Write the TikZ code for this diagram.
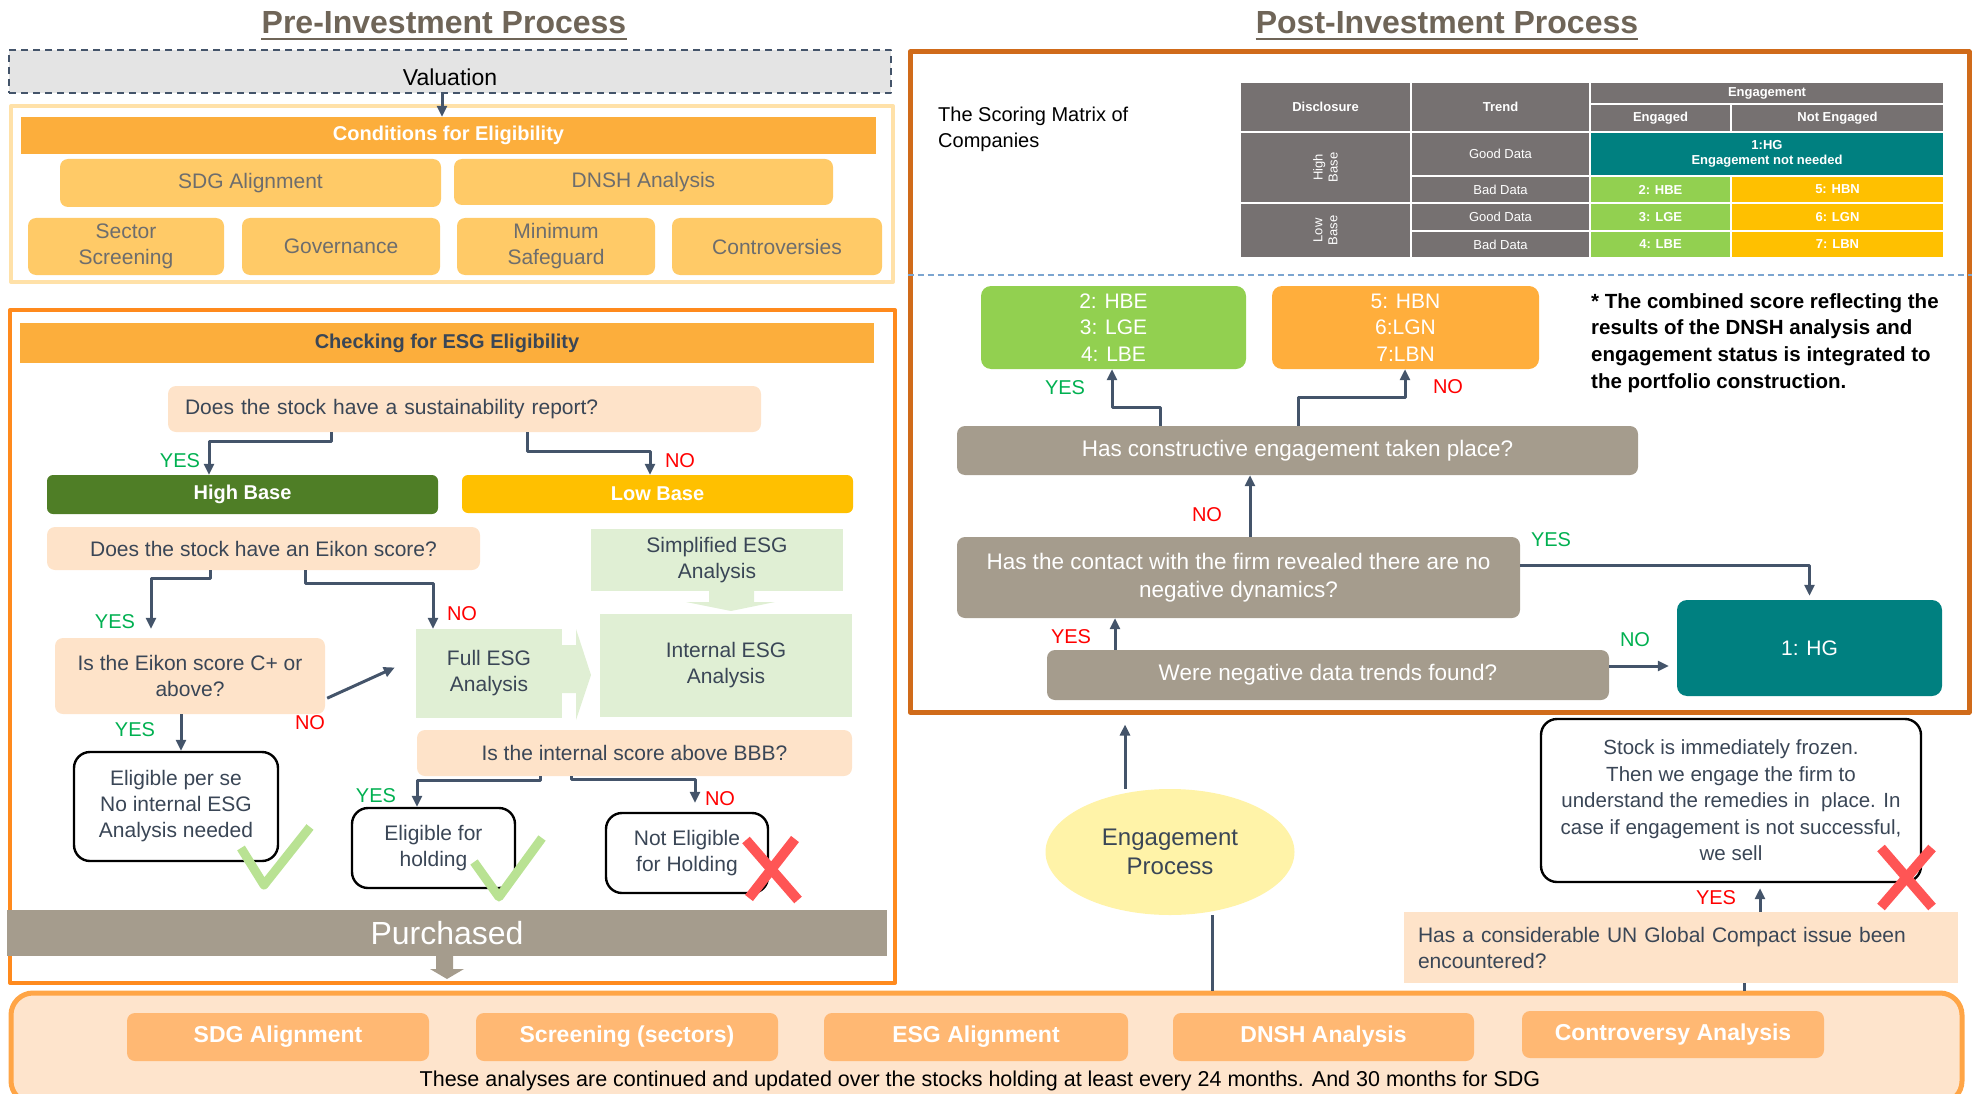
\documentclass[tikz,border=0pt]{standalone}
\usepackage{fontspec}
\setmainfont{Liberation Sans}
\usepackage{tikz}
\usetikzlibrary{positioning, arrows, arrows.meta, calc, shapes.geometric}

\definecolor{arrowc}{HTML}{44546A}
\definecolor{peach}{HTML}{FEE3C9}
\definecolor{ltgreen}{HTML}{E0EFD4}
\definecolor{condbar}{HTML}{FCAE3C}
\definecolor{condfill}{HTML}{FFCA67}
\definecolor{condedge}{HTML}{FFE1A8}
\definecolor{chkedge}{HTML}{FF8A1D}
\definecolor{postedge}{HTML}{D06B1A}
\definecolor{botfill}{HTML}{FEE4CC}
\definecolor{botedge}{HTML}{FFA546}
\definecolor{botitem}{HTML}{FFB873}
\definecolor{brgray}{HTML}{A59C8D}
\definecolor{tealc}{HTML}{008080}
\definecolor{tgreen}{HTML}{92D050}
\definecolor{tyellow}{HTML}{FFC000}
\definecolor{torange}{HTML}{FFAE3C}
\definecolor{tgray}{HTML}{767171}
\definecolor{hbgreen}{HTML}{4F7E26}
\definecolor{titlec}{HTML}{6F6558}
\definecolor{txtdark}{HTML}{3A4656}
\definecolor{condtxt}{HTML}{6D6D6D}
\definecolor{yesg}{HTML}{00B050}
\definecolor{nor}{HTML}{FF0000}
\definecolor{tickg}{HTML}{B9E293}
\definecolor{crossr}{HTML}{FF5555}
\definecolor{engfill}{HTML}{FFF3A8}
\definecolor{valfill}{HTML}{E4E4E4}
\definecolor{dashblue}{HTML}{7CA5D0}

\begin{document}
\begin{tikzpicture}[x=1pt, y=-1pt, line join=round,
    wh/.style 2 args={minimum width=#1pt, minimum height=#2pt},
    nbase/.style={align=center, inner sep=2pt, text=txtdark, font=\fontsize{21}{26}\selectfont},
    ttl/.style={inner sep=0pt, text=titlec, font=\bfseries\fontsize{32}{36}\selectfont},
    hbar/.style={nbase, fill=condbar, font=\bfseries\fontsize{20}{24}\selectfont},
    cond/.style={nbase, fill=condfill, rounded corners=8pt, text=condtxt},
    quest/.style={nbase, fill=peach, rounded corners=8pt},
    esgbox/.style={nbase, fill=ltgreen},
    endbox/.style={nbase, fill=white, draw=black, line width=2.4pt, rounded corners=16pt},
    basebar/.style={nbase, rounded corners=6pt, text=white, font=\bfseries\fontsize{20}{24}\selectfont},
    postq/.style={nbase, fill=brgray, rounded corners=8pt, text=white, font=\fontsize{22.5}{28}\selectfont},
    score/.style={nbase, rounded corners=10pt, text=white, font=\fontsize{21}{26.5}\selectfont},
    botbox/.style={nbase, fill=botitem, rounded corners=8pt, text=white, font=\bfseries\fontsize{23}{28}\selectfont},
    tcell/.style={align=center, inner sep=0pt, text=white, font=\fontsize{13}{15}\selectfont},
    yeslbl/.style={inner sep=0pt, text=yesg, font=\fontsize{20}{22}\selectfont},
    nolbl/.style={inner sep=0pt, text=nor, font=\fontsize{20}{22}\selectfont},
    arr/.style={draw=arrowc, line width=3pt, -{Triangle[length=11pt, width=10pt]}},
    link/.style={draw=arrowc, line width=3pt},
    tickmark/.style={draw=tickg, line width=9pt},
    crossmark/.style={draw=crossr, line width=10pt}]
	\useasboundingbox (0,0) rectangle (1975,1094);
	
	% Titles
	\node[ttl] (pretitle) at (444,23) {Pre-Investment Process};
	\node[ttl] (posttitle) at (1447,23) {Post-Investment Process};
	\draw[titlec, line width=2.5pt] ($(pretitle.base west)+(0,5)$) -- ($(pretitle.base east)+(0,5)$);
	\draw[titlec, line width=2.5pt] ($(posttitle.base west)+(0,5)$) -- ($(posttitle.base east)+(0,5)$);
	
	% Frames
	\node[draw=condedge, line width=4pt, wh={882}{176}] (condframe) at (452,194) {};
	\node[draw=chkedge, line width=4pt, wh={885}{673}] (chkframe) at (452.5,646.5) {};
	\node[draw=postedge, line width=5pt, wh={1059}{660}] (postframe) at (1439.5,382) {};
	\node[draw=botedge, fill=botfill, line width=5pt, rounded corners=22pt, wh={1951}{110}] (botframe) at (986.5,1048) {};
	
	% Pre-investment: valuation and conditions
	\node[nbase, draw=arrowc, dash pattern=on 7pt off 5pt, line width=1.8pt, fill=valfill, wh={882}{43}, text=black, font=\fontsize{23}{28}\selectfont] (valuation) at (450,71.5) {\raisebox{-14pt}[0pt][0pt]{Valuation}};
	\node[hbar, wh={855}{37}, text=white] (condbar) at (448.5,135.5) {Conditions for Eligibility};
	\node[cond, wh={381}{48}] (sdg) at (250.5,183) {SDG Alignment};
	\node[cond, wh={379}{46}] (dnsh) at (643.5,182) {DNSH Analysis};
	\node[cond, wh={196}{57}] (sector) at (126,246.5) {Sector\\Screening};
	\node[cond, wh={198}{57}] (gov) at (341,246.5) {Governance};
	\node[cond, wh={198}{57}] (minsafe) at (556,246.5) {Minimum\\Safeguard};
	\node[cond, wh={210}{57}] (contro) at (777,246.5) {Controversies};
	
	% Pre-investment: ESG eligibility check
	\node[hbar, wh={854}{40}, text=txtdark] (chkbar) at (447,343) {Checking for ESG Eligibility};
	\node[quest, align=left, inner xsep=17pt, text width=559pt, wh={593}{46}] (q1) at (464.5,409) {Does the stock have a sustainability report?};
	\node[basebar, fill=hbgreen, wh={391}{39}] (highbase) at (242.5,494.5) {High Base};
	\node[basebar, fill=tyellow, wh={391}{38}] (lowbase) at (657.5,494) {Low Base};
	\node[quest, wh={433}{43}] (q2) at (263.5,548.5) {Does the stock have an Eikon score?};
	\node[esgbox, wh={252}{62}] (simpl) at (717,560) {Simplified ESG\\Analysis};
	\node[esgbox, wh={252}{103}] (internal) at (726,665.5) {Internal ESG\\Analysis};
	\node[esgbox, wh={146}{89}] (full) at (489,673.5) {Full ESG\\Analysis};
	\node[quest, wh={270}{76}] (q3) at (190,676) {Is the Eikon score C+ or\\above?};
	\node[endbox, wh={204}{109}] (perse) at (176,806.5) {Eligible per se\\No internal ESG\\Analysis needed};
	\node[quest, wh={435}{46}] (q4) at (634.5,753) {Is the internal score above BBB?};
	\node[endbox, wh={163}{80}] (eligh) at (433.5,848) {Eligible for\\holding};
	\node[endbox, wh={162}{80}] (noteligh) at (687,853) {Not Eligible\\for Holding};
	\node[nbase, fill=brgray, wh={880}{46}, text=white, font=\fontsize{32}{36}\selectfont] (purchased) at (447,933) {Purchased};
	
	% block arrows
	\fill[ltgreen] (709,591) -- (754,591) -- (754,602) -- (775,602) -- (731,611) -- (686,602) -- (709,602) -- cycle;
	\fill[ltgreen] (562,645) -- (576,645) -- (576,629) -- (591,675) -- (576,720) -- (576,693) -- (562,693) -- cycle;
	\fill[brgray] (436,955) -- (453,955) -- (453,969) -- (464,969) -- (447,979) -- (430,969) -- (436,969) -- cycle;
	
	% ticks and crosses
	\draw[tickmark] (241,848) -- (264,885) -- (310,827);
	\draw[tickmark] (474,862) -- (499,897) -- (542,838);
	\draw[crossmark] (746,840) -- (798,900) (795,839) -- (749,898);
	
	% Pre-investment connections
	\draw[arr] (valuation.south -| 442,0) -- (condbar.north -| 442,0);
	\draw[arr] (q1.south -| 331,0) |- (209,441) -- (highbase.north -| 209,0);
	\draw[arr] (q1.south -| 527,0) |- (650,451) -- (lowbase.north -| 650,0);
	\draw[arr, shorten >=9pt] (q2.south -| 210,0) |- (151,578) -- (q3.north -| 151,0);
	\draw[arr] (q2.south -| 305,0) |- (433,583) -- (full.north -| 433,0);
	\draw[arr] ($(q3.south east)+(2,-16)$) -- ($(full.west)+(-21,-6)$);
	\draw[arr] (q3.south -| 181,0) -- (perse.north -| 181,0);
	\draw[arr] (q4.south -| 540,0) |- (417,780) -- (eligh.north -| 417,0);
	\draw[arr, shorten >=9pt] (q4.south -| 571,0) |- (695,779) -- (noteligh.north -| 695,0);
	
	\node[yeslbl] at (180,461) {YES};
	\node[nolbl] at (680,461) {NO};
	\node[yeslbl] at (115,622) {YES};
	\node[nolbl] at (462,614) {NO};
	\node[nolbl] at (310,723) {NO};
	\node[yeslbl] at (135,730) {YES};
	\node[yeslbl] at (376,796) {YES};
	\node[nolbl] at (720,799) {NO};
	
	% Post-investment: scoring matrix
	\node[nbase, anchor=west, align=left, text=black, font=\fontsize{20}{26}\selectfont] (matrixlbl) at (936,129) {The Scoring Matrix of\\Companies};
	\foreach \xa/\ya/\xb/\yb/\fc/\lbl in {
		1240/82/1411/132/tgray/{\bfseries Disclosure},
		1411/82/1590/132/tgray/{\bfseries Trend},
		1590/82/1944/104/tgray/{\bfseries Engagement},
		1590/104/1731/132/tgray/{\bfseries Engaged},
		1731/104/1944/132/tgray/{\bfseries Not Engaged},
		1240/132/1411/203/tgray/{},
		1411/132/1590/176/tgray/{Good Data},
		1590/132/1944/176/tealc/{\bfseries 1:HG\\\bfseries Engagement not needed},
		1411/176/1590/203/tgray/{Bad Data},
		1590/176/1731/203/tgreen/{\bfseries 2: HBE},
		1731/176/1944/203/tyellow/{\bfseries 5: HBN},
		1240/203/1411/258/tgray/{},
		1411/203/1590/231/tgray/{Good Data},
		1590/203/1731/231/tgreen/{\bfseries 3: LGE},
		1731/203/1944/231/tyellow/{\bfseries 6: LGN},
		1411/231/1590/258/tgray/{Bad Data},
		1590/231/1731/258/tgreen/{\bfseries 4: LBE},
		1731/231/1944/258/tyellow/{\bfseries 7: LBN}}{
		\path[fill=\fc, draw=white, line width=1.5pt] (\xa,\ya) rectangle (\xb,\yb);
		\node[tcell] at ({(\xa+\xb)/2},{(\ya+\yb)/2}) {\lbl};
	}
	\node[tcell, rotate=90] (highlbl) at (1325.5,167.5) {High\\Base};
	\node[tcell, rotate=90] (lowlbl) at (1325.5,230.5) {Low\\Base};
	\draw[dashblue, dash pattern=on 6pt off 4pt, line width=2pt] (postframe.west |- 0,275) -- (postframe.east |- 0,275);
	
	% Post-investment: engagement flow
	\node[score, fill=tgreen, wh={265}{83}] (hbe) at (1113.5,327.5) {2: HBE\\3: LGE\\4: LBE};
	\node[score, fill=torange, wh={267}{83}] (hbn) at (1405.5,327.5) {5: HBN\\6:LGN\\7:LBN};
	\node[nbase, anchor=west, align=left, text=black, font=\bfseries\fontsize{20.5}{26.7}\selectfont] (note) at (1589,343) {* The combined score reflecting the\\results of the DNSH analysis and\\engagement status is integrated to\\the portfolio construction.};
	\node[postq, wh={681}{49}] (q5) at (1297.5,450.5) {Has constructive engagement taken place?};
	\node[postq, wh={563}{81}] (q6) at (1238.5,577.5) {Has the contact with the firm revealed there are no\\negative dynamics?};
	\node[postq, wh={562}{50}] (q7) at (1328,675) {Were negative data trends found?};
	\node[score, fill=tealc, wh={265}{96}] (hg) at (1809.5,648) {1: HG};
	
	\draw[arr] (q5.north -| 1160,0) |- (1112,407) -- (hbe.south -| 1112,0);
	\draw[arr] (q5.north -| 1298,0) |- (1405,397) -- (hbn.south -| 1405,0);
	\draw[arr] (q6.north -| 1250,0) -- (q5.south -| 1250,0);
	\draw[arr, shorten >=4pt] (q6.east |- 0,565) -| (hg.north);
	\draw[arr] (q7.north -| 1115,0) -- (q6.south -| 1115,0);
	\draw[arr, shorten >=8pt] (q7.east |- 0,666) -- (hg.west |- 0,666);
	
	\node[yeslbl] at (1065,388) {YES};
	\node[nolbl] at (1448,387) {NO};
	\node[nolbl] at (1207,515) {NO};
	\node[yeslbl] at (1551,540) {YES};
	\node[nolbl] at (1071,637) {YES};
	\node[yeslbl] at (1635,640) {NO};
	
	% Engagement process and UN Global Compact
	\node[ellipse, fill=engfill, inner sep=0pt, wh={249}{126}, align=center, text=txtdark, font=\fontsize{24}{29}\selectfont] (eng) at (1170,852) {Engagement\\Process};
	\node[endbox, wh={380}{163}, font=\fontsize{20.5}{26.5}\selectfont] (frozen) at (1731,800.5) {Stock is immediately frozen.\\Then we engage the firm to\\understand the remedies in~ place. In\\case if engagement is not successful,\\we sell};
	\node[quest, rounded corners=0pt, align=left, inner xsep=14pt, text width=526pt, wh={554}{71}] (un) at (1681,947.5) {Has a considerable UN Global Compact issue been\\encountered?};
	\draw[crossmark] (1881,848) -- (1932,907) (1932,848) -- (1881,907);
	
	\draw[arr, shorten >=10pt] (eng.north -| 1125,0) -- (postframe.south -| 1125,0);
	\draw[link] (eng.south -| 1212,0) -- (botframe.north -| 1212,0);
	\draw[arr, shorten >=5pt] (un.north -| 1760,0) -- (frozen.south -| 1760,0);
	\draw[link] (un.south -| 1744,0) -- (botframe.north -| 1744,0);
	\node[nolbl] at (1716,898) {YES};
	
	% Ongoing analyses
	\node[botbox, wh={302}{48}] (sdg2) at (278,1037) {SDG Alignment};
	\node[botbox, wh={302}{48}] (screen2) at (627,1037) {Screening (sectors)};
	\node[botbox, wh={304}{48}] (esg2) at (976,1037) {ESG Alignment};
	\node[botbox, wh={301}{48}] (dnsh2) at (1323.5,1037) {DNSH Analysis};
	\node[botbox, wh={302}{47}] (contro2) at (1673,1034.5) {Controversy Analysis};
	\node[nbase, inner sep=0pt, text=black, font=\fontsize{21.5}{24}\selectfont] (footer) at (980,1081) {These analyses are continued and updated over the stocks holding at least every 24 months. And 30 months for SDG};
\end{tikzpicture}
\end{document}
